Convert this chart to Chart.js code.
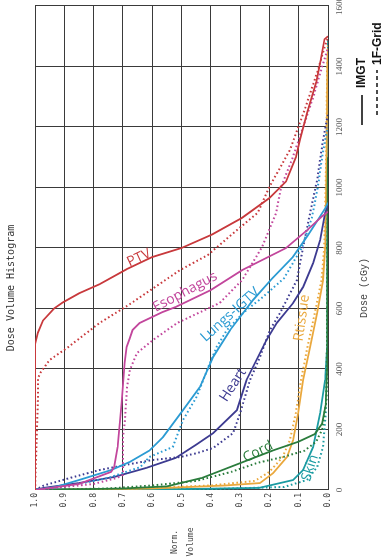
<!DOCTYPE html>
<html><head><meta charset="utf-8">
<script src="https://cdn.jsdelivr.net/npm/chart.js@4/dist/chart.umd.min.js"></script>
<style>
html,body{margin:0;padding:0;background:#fff;overflow:hidden;width:383px;height:559px}
#wrap{position:absolute;left:0;top:0;width:559px;height:383px;transform-origin:0 0;transform:translateY(559px) rotate(-90deg);background:#fff}
</style></head><body>
<div id="wrap"><canvas id="c" width="559" height="383"></canvas></div>
<script>
// Dose ticks (cGy) and volume ticks
const doseTicks = [0, 200, 400, 600, 800, 1000, 1200, 1400, 1600];
const volumeTicks = [0, 0.1, 0.2, 0.3, 0.4, 0.5, 0.6, 0.7, 0.8, 0.9, 1.0];

// PTV
const ptvImgtDose = [0, 300, 480, 520, 560, 600, 620, 650, 680, 730, 770, 800, 845, 900, 965, 1020, 1100, 1160, 1250, 1350, 1420, 1490, 1500];
const ptvImgtVol  = [1.0, 1.0, 1.0, 0.99, 0.973, 0.935, 0.905, 0.85, 0.78, 0.687, 0.60, 0.50, 0.395, 0.293, 0.20, 0.143, 0.11, 0.095, 0.07, 0.04, 0.025, 0.012, 0.0];
const ptvGridDose = [0, 300, 370, 390, 430, 470, 552, 612, 727, 777, 860, 916, 1002, 1124, 1256, 1389, 1470, 1495];
const ptvGridVol  = [1.0, 0.99, 0.99, 0.98, 0.95, 0.89, 0.78, 0.68, 0.505, 0.41, 0.31, 0.24, 0.20, 0.13, 0.08, 0.034, 0.01, 0.0];

// Esophagus
const esoImgtDose = [0, 20, 60, 76, 142, 288, 420, 473, 500, 529, 552, 588, 605, 661, 727, 800, 860, 905, 920];
const esoImgtVol  = [1.0, 0.85, 0.74, 0.73, 0.718, 0.704, 0.694, 0.687, 0.677, 0.667, 0.643, 0.565, 0.52, 0.40, 0.293, 0.143, 0.07, 0.02, 0.0];
const esoGridDose = [0, 20, 40, 50, 175, 231, 341, 397, 453, 496, 552, 618, 694, 803, 916, 1002, 1100, 1200, 1300, 1400, 1460];
const esoGridVol  = [1.0, 0.8, 0.72, 0.70, 0.70, 0.693, 0.686, 0.676, 0.652, 0.597, 0.515, 0.37, 0.293, 0.225, 0.177, 0.16, 0.12, 0.085, 0.05, 0.02, 0.0];

// Lungs-IGTV
const lungImgtDose = [0, 10, 33, 66, 93, 130, 175, 264, 341, 440, 529, 628, 700, 770, 840, 900, 930, 950];
const lungImgtVol  = [1.0, 0.93, 0.85, 0.74, 0.676, 0.61, 0.563, 0.495, 0.437, 0.392, 0.334, 0.256, 0.19, 0.12, 0.07, 0.03, 0.01, 0.0];
const lungGridDose = [0, 10, 40, 76, 109, 142, 231, 307, 420, 473, 529, 585, 640, 700, 800, 900, 1000, 1100, 1180, 1200];
const lungGridVol  = [1.0, 0.9, 0.75, 0.64, 0.61, 0.53, 0.495, 0.449, 0.403, 0.38, 0.345, 0.29, 0.22, 0.15, 0.09, 0.055, 0.035, 0.02, 0.005, 0.0];

// Heart
const heartImgtDose = [0, 7, 23, 43, 73, 106, 150, 188, 264, 364, 453, 496, 552, 618, 671, 750, 826, 916, 940];
const heartImgtVol  = [1.0, 0.97, 0.85, 0.73, 0.62, 0.52, 0.45, 0.392, 0.311, 0.278, 0.232, 0.21, 0.175, 0.119, 0.085, 0.051, 0.027, 0.01, 0.0];
const heartGridDose = [0, 15, 40, 66, 85, 99, 109, 122, 139, 188, 254, 364, 440, 529, 585, 694, 803, 916, 1025, 1150, 1220, 1240];
const heartGridVol  = [1.0, 0.97, 0.88, 0.78, 0.68, 0.6, 0.505, 0.447, 0.392, 0.324, 0.30, 0.266, 0.232, 0.198, 0.164, 0.106, 0.085, 0.061, 0.037, 0.018, 0.005, 0.0];

// Cord
const cordImgtDose = [0, 5, 12, 40, 70, 100, 130, 160, 185, 220, 280, 400, 1000, 1100];
const cordImgtVol  = [1.0, 0.7, 0.55, 0.43, 0.35, 0.27, 0.19, 0.10, 0.045, 0.02, 0.008, 0.003, 0.001, 0.0];
const cordGridDose = [0, 5, 15, 30, 60, 90, 110, 130, 160, 200, 300, 1000];
const cordGridVol  = [1.0, 0.75, 0.6, 0.45, 0.33, 0.24, 0.15, 0.08, 0.04, 0.02, 0.005, 0.0];

// Rt tissue
const rtImgtDose = [0, 5, 15, 23, 56, 109, 165, 254, 364, 473, 585, 694, 800, 1000, 1200, 1400, 1460];
const rtImgtVol  = [1.0, 0.6, 0.35, 0.232, 0.187, 0.14, 0.119, 0.102, 0.085, 0.061, 0.037, 0.017, 0.01, 0.006, 0.004, 0.002, 0.0];
const rtGridDose = [0, 5, 15, 30, 60, 109, 165, 254, 364, 473, 585, 694, 800, 1000, 1200, 1400, 1480];
const rtGridVol  = [1.0, 0.65, 0.4, 0.25, 0.2, 0.155, 0.13, 0.11, 0.092, 0.07, 0.045, 0.022, 0.013, 0.008, 0.005, 0.003, 0.0];

// Skin
const skinImgtDose = [0, 3, 7, 33, 66, 142, 254, 364, 473, 800, 1200, 1490];
const skinImgtVol  = [1.0, 0.5, 0.235, 0.119, 0.085, 0.051, 0.027, 0.01, 0.003, 0.002, 0.001, 0.0];
const skinGridDose = [0, 3, 10, 33, 76, 142, 250, 400, 1200, 1480];
const skinGridVol  = [1.0, 0.4, 0.15, 0.072, 0.037, 0.017, 0.008, 0.003, 0.001, 0.0];

const legendNames = ['IMGT', '1F-Grid'];

const colors = {
  PTV: '#c8393c', Esophagus: '#c2469c', 'Lungs-IGTV': '#2b9bd3', Heart: '#3d3b91',
  Cord: '#2a7c3c', Rtissue: '#eaa83d', Skin: '#1a9ba2'
};

const series = [
  ['PTV', ptvImgtDose, ptvImgtVol, ptvGridDose, ptvGridVol],
  ['Esophagus', esoImgtDose, esoImgtVol, esoGridDose, esoGridVol],
  ['Lungs-IGTV', lungImgtDose, lungImgtVol, lungGridDose, lungGridVol],
  ['Heart', heartImgtDose, heartImgtVol, heartGridDose, heartGridVol],
  ['Cord', cordImgtDose, cordImgtVol, cordGridDose, cordGridVol],
  ['Rtissue', rtImgtDose, rtImgtVol, rtGridDose, rtGridVol],
  ['Skin', skinImgtDose, skinImgtVol, skinGridDose, skinGridVol]
];

const pts = (xs, ys) => xs.map((x, i) => ({ x, y: ys[i] }));

const datasets = [];
series.forEach(([name, d1, v1, d2, v2]) => {
  datasets.push({ label: name + ' ' + legendNames[1], data: pts(d2, v2), borderColor: colors[name],
    borderWidth: 2, borderDash: [1.6, 2.6], showLine: true, pointRadius: 0, tension: 0 });
  datasets.push({ label: name + ' ' + legendNames[0], data: pts(d1, v1), borderColor: colors[name],
    borderWidth: 1.8, showLine: true, pointRadius: 0, tension: 0 });
});

// curve name tags: [name, dose, volume, angle in degrees]
const curveTags = [
  ['PTV', 767, 0.645, 65],
  ['Esophagus', 655, 0.488, 62],
  ['Lungs-IGTV', 579, 0.334, 48],
  ['Heart', 347, 0.324, 33],
  ['Cord', 126, 0.239, 63],
  ['Rtissue', 569, 0.089, 8],
  ['Skin', 73, 0.061, 18]
];

const textPlugin = {
  id: 'dvhText',
  afterDraw(chart) {
    const ctx = chart.ctx;
    const xs = chart.scales.x, ys = chart.scales.y;
    ctx.save();
    // title
    ctx.fillStyle = '#333';
    ctx.font = '10px "DejaVu Sans Mono"';
    ctx.textAlign = 'center';
    ctx.textBaseline = 'middle';
    ctx.fillText('Dose Volume Histogram', 271, 11);
    // axis titles
    ctx.font = '10px "Liberation Mono"';
    ctx.fillStyle = '#444';
    ctx.fillText('Dose (cGy)', 271, 364);
    ctx.font = '8px "DejaVu Sans Mono"';
    ctx.fillText('Norm.', 17, 175);
    ctx.fillText('Volume', 17, 191);
    // legend
    ctx.strokeStyle = '#111';
    ctx.lineWidth = 1.6;
    ctx.beginPath(); ctx.moveTo(434, 362); ctx.lineTo(464, 362); ctx.stroke();
    ctx.setLineDash([4, 3]);
    ctx.beginPath(); ctx.moveTo(444, 377); ctx.lineTo(489, 377); ctx.stroke();
    ctx.setLineDash([]);
    ctx.fillStyle = '#111';
    ctx.font = 'bold 12px "Liberation Sans"';
    ctx.textAlign = 'left';
    ctx.fillText(legendNames[0], 471, 362);
    ctx.fillText(legendNames[1], 494, 378);
    // curve tags
    ctx.font = '14px "Open Sans"';
    ctx.textAlign = 'center';
    curveTags.forEach(([name, d, v, a]) => {
      ctx.save();
      ctx.translate(xs.getPixelForValue(d), ys.getPixelForValue(v));
      ctx.rotate(a * Math.PI / 180);
      ctx.fillStyle = colors[name];
      ctx.fillText(name, 0, 0);
      ctx.restore();
    });
    ctx.restore();
  }
};

const gridColor = '#3a3a3a';

new Chart(document.getElementById('c'), {
  type: 'scatter',
  data: { datasets },
  options: {
    responsive: false,
    animation: false,
    devicePixelRatio: 1,
    layout: { padding: { left: 0, right: 6, top: 35, bottom: 0 } },
    plugins: { legend: { display: false }, title: { display: false }, tooltip: { enabled: false } },
    scales: {
      x: {
        type: 'linear', min: 0, max: 1600,
        afterBuildTicks: s => { s.ticks = doseTicks.map(v => ({ value: v })); },
        afterFit: s => { s.height = 55; s.paddingLeft = 0; s.paddingRight = 0; },
        ticks: { autoSkip: false, maxRotation: 0, minRotation: 0, padding: 6, color: '#555',
          font: { family: 'Liberation Serif', size: 9 }, callback: v => String(v) },
        grid: { color: gridColor, lineWidth: 1, drawTicks: false },
        border: { color: gridColor, width: 1 }
      },
      y: {
        type: 'linear', min: 0, max: 1,
        afterBuildTicks: s => { s.ticks = volumeTicks.map(v => ({ value: v })); },
        afterFit: s => { s.width = 69; s.paddingTop = 0; s.paddingBottom = 0; },
        ticks: { autoSkip: false, padding: 3, color: '#444',
          font: { family: 'DejaVu Sans Mono', size: 8 },
          callback: v => Number(v).toFixed(1) },
        grid: { color: gridColor, lineWidth: 1, drawTicks: false },
        border: { color: gridColor, width: 1 }
      }
    }
  },
  plugins: [textPlugin]
});
</script>
</body></html>
